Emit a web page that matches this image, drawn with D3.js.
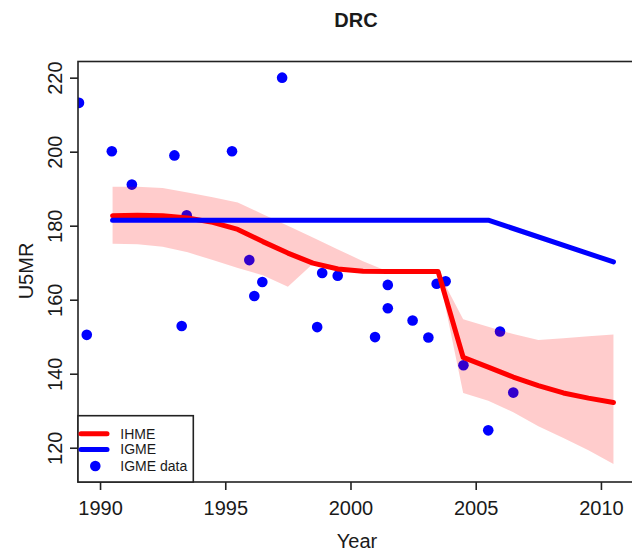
<!DOCTYPE html>
<html>
<head>
<meta charset="utf-8">
<script src="https://cdn.jsdelivr.net/npm/d3@7"></script>
<style>
  body { margin: 0; background: #fff; }
  text { font-family: "Liberation Sans", Arial, sans-serif; fill: #1a1a1a; }
</style>
</head>
<body>
<div class="chart"></div>
<script>
var values = { width: 632, height: 556, left: 78, top: 61.5, right: 636, bottom: 482 };

// IHME estimate and its uncertainty band (mid-year points)
var ihmeYears = [1990.5, 1991.5, 1992.5, 1993.5, 1994.5, 1995.5, 1996.5, 1997.5, 1998.5, 1999.5, 2000.5,
                 2001.5, 2002.5, 2003.5, 2004.5, 2005.5, 2006.5, 2007.5, 2008.5, 2009.5, 2010.5];
var ihme      = [182.7, 182.8, 182.7, 182.1, 180.9, 179.0, 175.7, 172.6, 169.9, 168.3, 167.7,
                 167.6, 167.6, 167.6, 144.4, 141.8, 139.1, 136.8, 134.8, 133.4, 132.2];
var ihmeUpper = [190.5, 190.5, 190.2, 189.0, 187.7, 186.3, 183.1, 180.0, 176.8, 173.6, 170.4,
                 167.6, 167.6, 167.6, 154.7, 152.7, 150.7, 149.1, 149.6, 150.1, 150.6];
var ihmeLower = [175.1, 175.0, 174.3, 172.8, 170.7, 168.6, 166.6, 163.5, 169.7, 168.3, 167.7,
                 167.6, 167.6, 167.6, 134.8, 132.7, 129.6, 125.8, 122.6, 119.3, 115.6];

// IGME estimate
var igmeYears = [1990.5, 2005.5, 2010.5];
var igme      = [181.5, 181.5, 170.2];

// IGME data points
var dataYears  = [1989.16, 1989.47, 1990.47, 1991.27, 1992.97, 1993.26, 1993.46, 1995.27, 1995.96, 1996.16,
                  1996.48, 1997.27, 1998.67, 1998.87, 1999.49, 2000.98, 2001.49, 2001.49, 2002.48, 2003.11,
                  2003.44, 2003.80, 2004.51, 2005.50, 2005.97, 2006.50];
var dataValues = [213.2, 150.5, 200.1, 191.1, 199.0, 152.9, 182.8, 200.1, 170.7, 161.0,
                  164.8, 220.0, 152.6, 167.2, 166.5, 149.9, 164.0, 157.7, 154.4, 149.8,
                  164.3, 165.0, 142.3, 124.7, 151.4, 134.9];

var xTicks = [1990, 1995, 2000, 2005, 2010];
var yTicks = [120, 140, 160, 180, 200, 220];
var legendLabels = ["IHME", "IGME", "IGME data"];

var x = d3.scaleLinear().domain([1989.12, 2011.40]).range([values.left, values.right]);
var y = d3.scaleLinear().domain([110.74, 224.37]).range([values.bottom, values.top]);

var svg = d3.select('.chart').append('svg')
  .attr('width', values.width)
  .attr('height', values.height);

svg.append('defs').append('clipPath').attr('id', 'plotclip')
  .append('rect')
  .attr('x', values.left).attr('y', values.top)
  .attr('width', values.right - values.left).attr('height', values.bottom - values.top);

var plot = svg.append('g').attr('clip-path', 'url(#plotclip)');

// data points first, band is drawn over them
plot.selectAll('circle.pt')
  .data(dataYears.map((d, i) => ({ yr: d, v: dataValues[i] })))
  .enter().append('circle')
  .attr('class', 'pt')
  .attr('cx', d => x(d.yr))
  .attr('cy', d => y(d.v))
  .attr('r', 5.3)
  .style('fill', '#0000ff');

var band = ihmeYears.map((d, i) => ({ yr: d, lo: ihmeLower[i], hi: ihmeUpper[i] }));
plot.append('path')
  .datum(band)
  .attr('d', d3.area().x(d => x(d.yr)).y0(d => y(d.lo)).y1(d => y(d.hi)))
  .style('fill', 'rgba(255,0,0,0.2)');

var line = d3.line().x(d => x(d[0])).y(d => y(d[1]));

plot.append('path')
  .datum(ihmeYears.map((d, i) => [d, ihme[i]]))
  .attr('d', line)
  .style('fill', 'none').style('stroke', '#ff0000')
  .style('stroke-width', 5).style('stroke-linecap', 'round').style('stroke-linejoin', 'round');

plot.append('path')
  .datum(igmeYears.map((d, i) => [d, igme[i]]))
  .attr('d', line)
  .style('fill', 'none').style('stroke', '#0000ff')
  .style('stroke-width', 5).style('stroke-linecap', 'round').style('stroke-linejoin', 'round');

// box
svg.append('rect')
  .attr('x', values.left).attr('y', values.top)
  .attr('width', values.right - values.left).attr('height', values.bottom - values.top)
  .style('fill', 'none').style('stroke', '#222').style('stroke-width', 1.6);

// x axis
var xAxis = svg.append('g')
  .attr('transform', 'translate(0,' + values.bottom + ')')
  .call(d3.axisBottom(x).tickValues(xTicks).tickSize(8).tickFormat(d3.format('d')));
xAxis.select('.domain').remove();
xAxis.selectAll('line').style('stroke', '#222').style('stroke-width', 1.6);
xAxis.selectAll('text')
  .attr('y', 33).attr('dy', 0)
  .style('font-size', '20px').style('fill', '#1a1a1a')
  .style('font-family', '"Liberation Sans", Arial, sans-serif');

// y axis, labels parallel to the axis
var yAxis = svg.append('g')
  .attr('transform', 'translate(' + values.left + ',0)')
  .call(d3.axisLeft(y).tickValues(yTicks).tickSize(8));
yAxis.select('.domain').remove();
yAxis.selectAll('line').style('stroke', '#222').style('stroke-width', 1.6);
yAxis.selectAll('text')
  .attr('transform', 'rotate(-90)')
  .attr('x', 0).attr('y', -16.5).attr('dy', 0)
  .style('text-anchor', 'middle')
  .style('font-size', '20px').style('fill', '#1a1a1a')
  .style('font-family', '"Liberation Sans", Arial, sans-serif');

// title and axis labels
svg.append('text')
  .attr('x', 356).attr('y', 27)
  .attr('text-anchor', 'middle')
  .style('font-size', '20px').style('font-weight', 'bold')
  .text('DRC');

svg.append('text')
  .attr('x', 357).attr('y', 548)
  .attr('text-anchor', 'middle')
  .style('font-size', '20px')
  .text('Year');

svg.append('text')
  .attr('transform', 'translate(33,271) rotate(-90)')
  .attr('text-anchor', 'middle')
  .style('font-size', '20px')
  .text('U5MR');

// legend
var legend = svg.append('g');
legend.append('rect')
  .attr('x', values.left).attr('y', 415.7)
  .attr('width', 115.3).attr('height', values.bottom - 415.7)
  .style('fill', '#fff').style('stroke', '#222').style('stroke-width', 1.6);

var legendColors = ['#ff0000', '#0000ff', '#0000ff'];
var legendRows = [433.7, 449.4, 466];
legendLabels.forEach((lab, i) => {
  if (i < 2) {
    legend.append('line')
      .attr('x1', 81).attr('x2', 107)
      .attr('y1', legendRows[i]).attr('y2', legendRows[i])
      .style('stroke', legendColors[i]).style('stroke-width', 5).style('stroke-linecap', 'round');
  } else {
    legend.append('circle')
      .attr('cx', 95.3).attr('cy', legendRows[i]).attr('r', 5.3)
      .style('fill', legendColors[i]);
  }
  legend.append('text')
    .attr('x', 120.3).attr('y', legendRows[i] + 4.8)
    .style('font-size', '14px')
    .text(lab);
});
</script>
</body>
</html>
